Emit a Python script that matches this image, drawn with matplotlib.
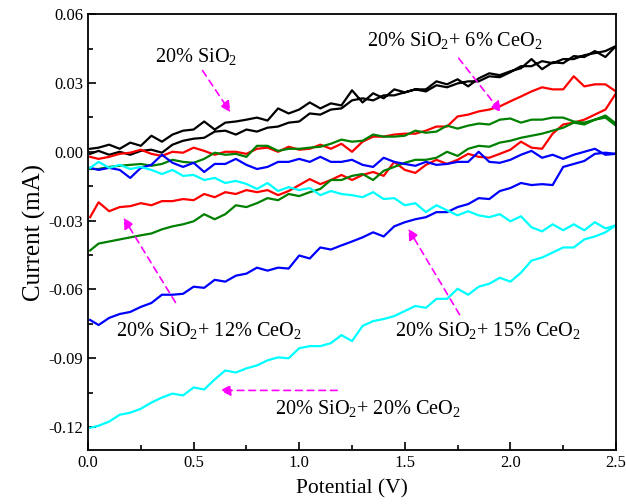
import numpy as np
import matplotlib
matplotlib.use('Agg')
import matplotlib.pyplot as plt
from matplotlib.ticker import MultipleLocator, FormatStrFormatter

plt.rcParams['font.family'] = ['Liberation Serif', 'DejaVu Serif']
plt.rcParams['mathtext.fontset'] = 'custom'
plt.rcParams['mathtext.rm'] = 'Liberation Serif'
plt.rcParams['mathtext.it'] = 'Liberation Serif'
plt.rcParams['axes.unicode_minus'] = False

# scan potential (V), same grid for every branch
potential = [0.01, 0.05, 0.10, 0.15, 0.20, 0.25, 0.30, 0.35, 0.40, 0.45,
             0.50, 0.55, 0.60, 0.65, 0.70, 0.75, 0.80, 0.85, 0.90, 0.95,
             1.00, 1.05, 1.10, 1.15, 1.20, 1.25, 1.30, 1.35, 1.40, 1.45,
             1.50, 1.55, 1.60, 1.65, 1.70, 1.75, 1.80, 1.85, 1.90, 1.95,
             2.00, 2.05, 2.10, 2.15, 2.20, 2.25, 2.30, 2.35, 2.40, 2.45, 2.50]

# 20% SiO2 (black)
black_a = [0.0013, 0.0018, 0.0031, 0.0013, 0.0040, 0.0026, 0.0070, 0.0044, 0.0075, 0.0092,
           0.0097, 0.0132, 0.0097, 0.0127, 0.0132, 0.0140, 0.0149, 0.0136, 0.0189, 0.0167,
           0.0184, 0.0215, 0.0189, 0.0211, 0.0202, 0.0268, 0.0215, 0.0255, 0.0233, 0.0272,
           0.0259, 0.0272, 0.0272, 0.0307, 0.0294, 0.0316, 0.0285, 0.0320, 0.0342, 0.0334,
           0.0351, 0.0364, 0.0404, 0.0360, 0.0390, 0.0386, 0.0417, 0.0413, 0.0439, 0.0413, 0.0461]
black_b = [-0.0009, 0.0004, -0.0013, 0.0000, -0.0013, 0.0004, 0.0009, -0.0004, 0.0031, 0.0048,
           0.0057, 0.0061, 0.0088, 0.0092, 0.0075, 0.0097, 0.0088, 0.0105, 0.0110, 0.0127,
           0.0132, 0.0167, 0.0162, 0.0184, 0.0189, 0.0224, 0.0233, 0.0224, 0.0246, 0.0246,
           0.0259, 0.0272, 0.0263, 0.0290, 0.0281, 0.0298, 0.0307, 0.0307, 0.0329, 0.0325,
           0.0347, 0.0373, 0.0373, 0.0395, 0.0386, 0.0404, 0.0404, 0.0421, 0.0430, 0.0439, 0.0461]

# 20% SiO2 + 6% CeO2 (red)
red_up = [-0.0022, -0.0031, -0.0022, -0.0009, -0.0004, 0.0009, -0.0009, -0.0018, 0.0000, -0.0004,
          0.0018, 0.0004, -0.0013, 0.0000, 0.0000, -0.0009, 0.0013, 0.0018, 0.0000, 0.0022,
          0.0009, 0.0013, 0.0031, 0.0013, 0.0035, 0.0000, 0.0044, 0.0066, 0.0066, 0.0075,
          0.0079, 0.0079, 0.0092, 0.0110, 0.0110, 0.0154, 0.0162, 0.0176, 0.0184, 0.0198,
          0.0220, 0.0241, 0.0263, 0.0281, 0.0272, 0.0272, 0.0329, 0.0285, 0.0294, 0.0294, 0.0263]
red_dn = [-0.0285, -0.0220, -0.0259, -0.0241, -0.0237, -0.0224, -0.0233, -0.0215, -0.0215, -0.0206,
          -0.0211, -0.0184, -0.0198, -0.0176, -0.0184, -0.0167, -0.0176, -0.0167, -0.0189, -0.0171,
          -0.0145, -0.0119, -0.0141, -0.0123, -0.0101, -0.0123, -0.0101, -0.0088, -0.0105, -0.0044,
          -0.0079, -0.0092, -0.0057, -0.0035, -0.0053, -0.0035, -0.0009, -0.0022, -0.0026, -0.0009,
          0.0009, 0.0044, 0.0018, 0.0013, 0.0079, 0.0119, 0.0127, 0.0140, 0.0162, 0.0184, 0.0255]

# 20% SiO2 + 15% CeO2 (green)
green_up = [-0.0075, -0.0075, -0.0066, -0.0061, -0.0057, -0.0053, -0.0061, -0.0053, -0.0035, -0.0044,
            -0.0048, -0.0031, -0.0004, -0.0013, -0.0009, -0.0022, 0.0026, 0.0026, 0.0004, 0.0013,
            0.0013, 0.0018, 0.0022, 0.0035, 0.0053, 0.0044, 0.0048, 0.0075, 0.0066, 0.0066,
            0.0070, 0.0092, 0.0083, 0.0088, 0.0114, 0.0101, 0.0114, 0.0123, 0.0119, 0.0140,
            0.0145, 0.0127, 0.0140, 0.0140, 0.0149, 0.0149, 0.0132, 0.0127, 0.0140, 0.0158, 0.0123]
green_dn = [-0.0430, -0.0400, -0.0391, -0.0382, -0.0373, -0.0364, -0.0356, -0.0338, -0.0325, -0.0316,
            -0.0303, -0.0272, -0.0294, -0.0272, -0.0233, -0.0241, -0.0224, -0.0202, -0.0211, -0.0184,
            -0.0193, -0.0176, -0.0162, -0.0123, -0.0123, -0.0105, -0.0097, -0.0123, -0.0083, -0.0066,
            -0.0048, -0.0035, -0.0035, -0.0026, 0.0000, -0.0018, 0.0013, 0.0026, 0.0022, 0.0040,
            0.0048, 0.0061, 0.0070, 0.0079, 0.0092, 0.0105, 0.0127, 0.0119, 0.0140, 0.0149, 0.0114]

# 20% SiO2 + 12% CeO2 (blue)
blue_up = [-0.0070, -0.0079, -0.0070, -0.0079, -0.0114, -0.0070, -0.0057, -0.0013, -0.0048, -0.0066,
           -0.0048, -0.0088, -0.0053, -0.0053, -0.0031, -0.0057, -0.0075, -0.0066, -0.0044, -0.0044,
           -0.0031, -0.0044, -0.0022, -0.0044, -0.0044, -0.0035, -0.0057, -0.0066, -0.0026, -0.0044,
           -0.0053, -0.0061, -0.0044, -0.0057, -0.0053, -0.0044, -0.0044, 0.0000, -0.0044, -0.0048,
           -0.0035, -0.0013, 0.0004, -0.0026, -0.0013, -0.0031, -0.0013, 0.0000, 0.0013, -0.0013, -0.0009]
blue_dn = [-0.0733, -0.0755, -0.0724, -0.0707, -0.0698, -0.0676, -0.0659, -0.0623, -0.0623, -0.0619,
           -0.0588, -0.0593, -0.0558, -0.0566, -0.0540, -0.0531, -0.0505, -0.0518, -0.0505, -0.0509,
           -0.0452, -0.0465, -0.0417, -0.0426, -0.0408, -0.0391, -0.0373, -0.0351, -0.0369, -0.0325,
           -0.0307, -0.0294, -0.0285, -0.0263, -0.0263, -0.0241, -0.0228, -0.0202, -0.0206, -0.0171,
           -0.0158, -0.0136, -0.0145, -0.0141, -0.0145, -0.0066, -0.0053, -0.0040, -0.0009, -0.0004, -0.0009]

# 20% SiO2 + 20% CeO2 (cyan)
cyan_up = [-0.0070, -0.0044, -0.0070, -0.0057, -0.0075, -0.0066, -0.0079, -0.0097, -0.0079, -0.0105,
           -0.0101, -0.0123, -0.0114, -0.0136, -0.0127, -0.0140, -0.0162, -0.0136, -0.0171, -0.0154,
           -0.0167, -0.0158, -0.0189, -0.0171, -0.0184, -0.0189, -0.0198, -0.0176, -0.0206, -0.0202,
           -0.0233, -0.0224, -0.0263, -0.0233, -0.0255, -0.0277, -0.0259, -0.0277, -0.0285, -0.0272,
           -0.0303, -0.0281, -0.0329, -0.0347, -0.0316, -0.0342, -0.0316, -0.0342, -0.0307, -0.0334, -0.0320]
cyan_dn = [-0.1203, -0.1194, -0.1176, -0.1146, -0.1137, -0.1120, -0.1093, -0.1071, -0.1054, -0.1062,
           -0.1027, -0.1036, -0.0992, -0.0953, -0.0962, -0.0944, -0.0931, -0.0909, -0.0896, -0.0900,
           -0.0856, -0.0847, -0.0847, -0.0834, -0.0799, -0.0825, -0.0759, -0.0738, -0.0729, -0.0716,
           -0.0694, -0.0672, -0.0680, -0.0641, -0.0641, -0.0597, -0.0623, -0.0588, -0.0575, -0.0549,
           -0.0566, -0.0527, -0.0474, -0.0461, -0.0439, -0.0417, -0.0417, -0.0382, -0.0369, -0.0351, -0.0320]

loops = [(black_a, black_b, 'black'),
         (red_up, red_dn, 'red'),
         (green_up, green_dn, 'green'),
         (blue_up, blue_dn, 'blue'),
         (cyan_up, cyan_dn, 'cyan')]

fig = plt.figure(figsize=(6.26, 5.04), dpi=100)
ax = fig.add_axes([0.1406, 0.107, 0.8434, 0.865])

v = np.array(potential)
for up, dn, c in loops:
    # draw each loop as one closed sweep
    xs = np.concatenate([v, v[::-1]])
    ys = np.concatenate([up, dn[::-1]])
    ax.plot(xs, ys, color=c, lw=1.6)

ax.set_xlim(0, 2.5)
ax.set_ylim(-0.13, 0.06)
ax.xaxis.set_major_locator(MultipleLocator(0.5))
ax.xaxis.set_minor_locator(MultipleLocator(0.25))
ax.yaxis.set_major_locator(MultipleLocator(0.03))
ax.yaxis.set_minor_locator(MultipleLocator(0.015))
ax.xaxis.set_major_formatter(FormatStrFormatter('%.1f'))
ax.yaxis.set_major_formatter(FormatStrFormatter('%.2f'))
ax.tick_params(which='both', direction='in', top=False, right=False, labelsize=12, width=1.2)
ax.tick_params(which='major', length=6)
ax.tick_params(which='minor', length=3.5)
for s in ax.spines.values():
    s.set_linewidth(1.3)

ax.set_xlabel('Potential (V)', fontsize=15.5, labelpad=6)
ax.set_ylabel('Current (mA)', fontsize=18, labelpad=2)

# labels with magenta dashed arrows
mag = '#ff00ff'
aprops = dict(arrowstyle='-|>', color=mag, lw=1.2, linestyle=(0, (4, 3)), mutation_scale=16)
fs = 14.6

ax.text(0.317, 0.0417, '20% SiO$_2$', fontsize=fs, va='center', ha='left')
ax.annotate('', xy=(0.682, 0.0162), xytext=(0.535, 0.0364), arrowprops=aprops)

ax.text(1.321, 0.0483, '20% SiO$_2$+ 6% CeO$_2$', fontsize=fs, va='center', ha='left')
ax.annotate('', xy=(1.965, 0.0162), xytext=(1.747, 0.0417), arrowprops=aprops)

ax.text(0.133, -0.0777, '20% SiO$_2$+ 12% CeO$_2$', fontsize=fs, va='center', ha='left')
ax.annotate('', xy=(0.161, -0.0277), xytext=(0.421, -0.0667), arrowprops=aprops)

ax.text(1.454, -0.0777, '20% SiO$_2$+ 15% CeO$_2$', fontsize=fs, va='center', ha='left')
ax.annotate('', xy=(1.51, -0.0325), xytext=(1.766, -0.072), arrowprops=aprops)

ax.text(0.885, -0.112, '20% SiO$_2$+ 20% CeO$_2$', fontsize=fs, va='center', ha='left')
ax.annotate('', xy=(0.611, -0.104), xytext=(1.193, -0.104), arrowprops=aprops)

fig.savefig('out.png', dpi=100)
